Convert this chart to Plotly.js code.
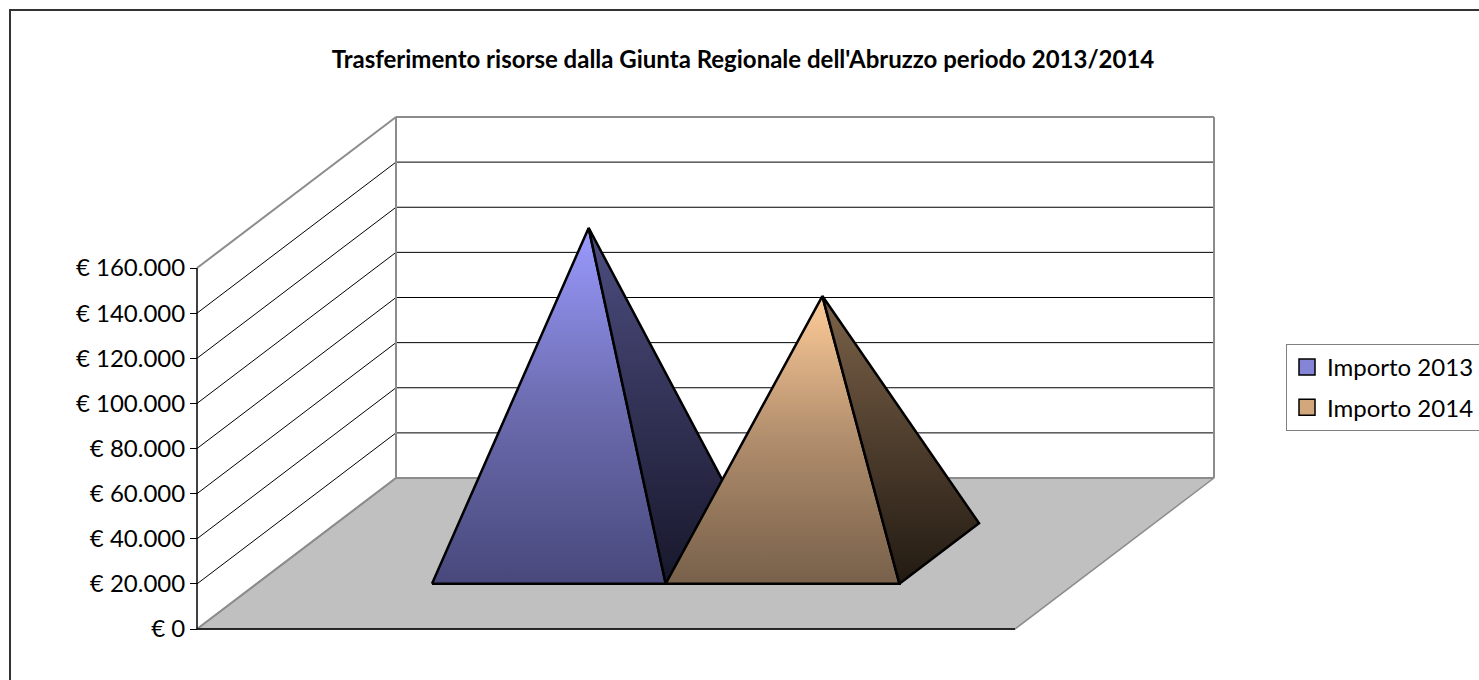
<!DOCTYPE html>
<html>
<head>
<meta charset="utf-8">
<script src="https://cdn.plot.ly/plotly-3.0.1.min.js"></script>
<style>
  html, body { margin: 0; padding: 0; background: #fff; }
  #wrap { position: relative; width: 1479px; height: 680px; overflow: hidden; }
  #chart { position: absolute; left: 0; top: 0; width: 1479px; height: 680px; }
  #frame { position: absolute; left: 9px; top: 9px; width: 3000px; height: 3000px;
           border-left: 2px solid #333; border-top: 2px solid #333; pointer-events: none; }
</style>
</head>
<body>
<div id="wrap"><div id="chart"></div><div id="frame"></div></div>
<script>
// ---- data ----
const chartTitle = "Trasferimento risorse dalla Giunta Regionale dell'Abruzzo periodo 2013/2014";
const seriesNames = ["Importo 2013", "Importo 2014"];
const seriesValues = [144300, 114100];
const tickValues = [0, 20000, 40000, 60000, 80000, 100000, 120000, 140000, 160000];
const tickLabels = ["€ 0", "€ 20.000", "€ 40.000", "€ 60.000", "€ 80.000", "€ 100.000", "€ 120.000", "€ 140.000", "€ 160.000"];

// ---- styles ----
const frontColors = [
  [[0, "#48487c"], [0.5, "#6c6cb0"], [1, "#9a9aff"]],
  [[0, "#77604a"], [0.5, "#b08d6c"], [1, "#ffcc99"]]
];
const sideColors = [
  [[0, "#17172b"], [1, "#4e4e82"]],
  [[0, "#221a12"], [1, "#7c6249"]]
];
const legendColors = ["#8585d8", "#d2a77c"];

// ---- 3D oblique projection set-up (pixel based layout constants) ----
const vMax = tickValues[tickValues.length - 1];
const pxPerUnit = 361 / vMax;          // vertical px per value unit
const K = 1 / pxPerUnit;               // value units per px
const W = 818;                         // floor front width (px)
const DX = 199;                        // depth horizontal shift (px)
const DYV = 151 * K;                   // depth vertical shift (value units)
const gapWidth = 1.5, gapDepth = 1.5;
const nS = seriesValues.length;
const barW = W / (nS + gapWidth);
const depthFrac = 1 / (1 + gapDepth);
const d0 = (1 - depthFrac) / 2, d1 = d0 + depthFrac, dm = 0.5;

function P(x, d, v) { return [x + d * DX, v + d * DYV]; }
function poly(pts) {
  return { x: pts.map(p => p[0]), y: pts.map(p => p[1]) };
}
function segs(list) {
  const x = [], y = [];
  list.forEach(s => { x.push(s[0][0], s[1][0], null); y.push(s[0][1], s[1][1], null); });
  return { x, y };
}

const traces = [];

// floor
const floor = poly([P(0, 0, 0), P(W, 0, 0), P(W, 1, 0), P(0, 1, 0), P(0, 0, 0)]);
traces.push({ type: "scatter", mode: "lines", x: floor.x, y: floor.y, fill: "toself",
  fillcolor: "#c0c0c0", line: { color: "#8c8c8c", width: 1.5 }, hoverinfo: "skip", showlegend: false });

// gridlines (side wall + back wall)
const gridSegs = [];
tickValues.slice(1, -1).forEach(v => {
  gridSegs.push([P(0, 0, v), P(0, 1, v)]);
  gridSegs.push([P(0, 1, v), P(W, 1, v)]);
});
const g = segs(gridSegs);
traces.push({ type: "scatter", mode: "lines", x: g.x, y: g.y,
  line: { color: "#000", width: 1 }, hoverinfo: "skip", showlegend: false });

// wall edges (gray)
const edgeSegs = [
  [P(0, 0, vMax), P(0, 1, vMax)],
  [P(0, 1, vMax), P(W, 1, vMax)],
  [P(0, 1, 0), P(0, 1, vMax)],
  [P(W, 1, 0), P(W, 1, vMax)],
  [P(0, 1, 0), P(W, 1, 0)],
  [P(0, 0, 0), P(0, 1, 0)]
];
const e = segs(edgeSegs);
traces.push({ type: "scatter", mode: "lines", x: e.x, y: e.y,
  line: { color: "#8c8c8c", width: 2 }, hoverinfo: "skip", showlegend: false });

// front axis line + floor front edge (black)
const axSegs = [[P(0, 0, 0), P(0, 0, vMax)], [P(0, 0, 0), P(W, 0, 0)]];
const a = segs(axSegs);
traces.push({ type: "scatter", mode: "lines", x: a.x, y: a.y,
  line: { color: "#000", width: 1.5 }, hoverinfo: "skip", showlegend: false });

// pyramids
seriesValues.forEach((val, i) => {
  const xl = (gapWidth / 2) * barW + i * barW;
  const apex = P(xl + barW / 2, dm, val);
  const front = poly([P(xl, d0, 0), P(xl + barW, d0, 0), apex, P(xl, d0, 0)]);
  const side = poly([P(xl + barW, d0, 0), P(xl + barW, d1, 0), apex, P(xl + barW, d0, 0)]);
  traces.push({ type: "scatter", mode: "lines", x: front.x, y: front.y, fill: "toself",
    fillgradient: { type: "vertical", colorscale: frontColors[i] },
    line: { color: "#000", width: 2.5 }, name: seriesNames[i], hoverinfo: "name", showlegend: false });
  traces.push({ type: "scatter", mode: "lines", x: side.x, y: side.y, fill: "toself",
    fillgradient: { type: "vertical", colorscale: sideColors[i] },
    line: { color: "#000", width: 2.5 }, name: seriesNames[i], hoverinfo: "name", showlegend: false });
});

// legend proxies
seriesNames.forEach((nm, i) => {
  traces.push({ type: "scatter", mode: "markers", x: [null], y: [null], name: nm,
    legendgroup: "g" + i,
    marker: { symbol: "square", size: 17, color: legendColors[i], line: { color: "#000", width: 1.5 } } });
});

// plot area in px
const L = 187, R = 1225, T = 107, B = 639;
const y0px = 629, x0px = 197;
const layout = {
  width: 1479, height: 680,
  margin: { l: L, r: 1479 - R, t: T, b: 680 - B, pad: 0, autoexpand: false },
  paper_bgcolor: "rgba(0,0,0,0)", plot_bgcolor: "rgba(0,0,0,0)",
  font: { family: "Lato, 'Open Sans', sans-serif", color: "#000" },
  title: { text: chartTitle, font: { family: "Lato, sans-serif", size: 24, weight: "bold", color: "#000" },
    x: 743 / 1479, xref: "container", xanchor: "center", y: 1 - 60 / 680, yref: "container", yanchor: "middle" },
  xaxis: { range: [L - x0px, R - x0px], showgrid: false, zeroline: false, showticklabels: false,
    ticks: "", showline: false, fixedrange: true, automargin: false },
  yaxis: { range: [(y0px - B) * K, (y0px - T) * K], anchor: "free", position: (x0px - L) / (R - L),
    showgrid: false, zeroline: false, showline: false, automargin: false,
    tickmode: "array", tickvals: tickValues, ticktext: tickLabels,
    ticks: "outside", ticklen: 7, tickwidth: 1, tickcolor: "#000",
    tickfont: { family: "Lato, sans-serif", size: 24, color: "#000" }, fixedrange: true },
  showlegend: true,
  legend: { xref: "container", yref: "container", x: 1286 / 1479, xanchor: "left",
    y: 1 - 344 / 680, yanchor: "top",
    bordercolor: "#808080", borderwidth: 1, bgcolor: "#fff",
    font: { family: "Lato, sans-serif", size: 24, color: "#000" },
    traceorder: "grouped", tracegroupgap: 6 },
  hovermode: "closest"
};

Plotly.newPlot("chart", traces, layout, { displayModeBar: false, staticPlot: true });
</script>
</body>
</html>
